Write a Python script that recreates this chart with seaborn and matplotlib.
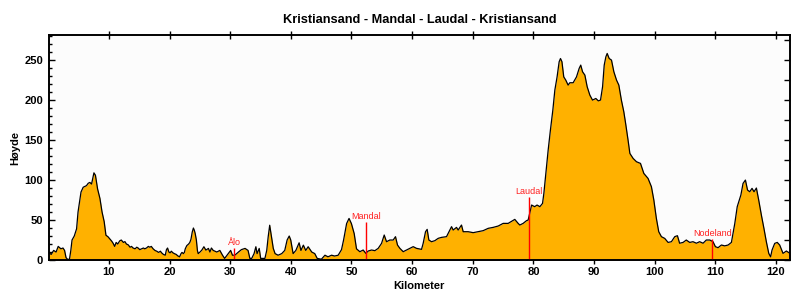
import matplotlib
matplotlib.use("Agg")
import matplotlib.pyplot as plt
import seaborn as sns
import pandas as pd
import numpy as np

sns.set_theme(style="ticks")
plt.rcParams["font.family"] = ["Liberation Sans", "DejaVu Sans"]
plt.rcParams["text.color"] = "black"
plt.rcParams["axes.labelcolor"] = "black"
plt.rcParams["xtick.color"] = "black"
plt.rcParams["ytick.color"] = "black"

# ---- data ----
km = [0.1, 0.5, 0.9, 1.3, 1.65, 2.1, 2.44, 2.7, 2.94, 3.3, 3.53, 3.73, 3.93, 4.3, 4.68, 4.92,
      5.41, 5.77, 6.31, 6.6, 6.87, 7.15, 7.54, 7.79, 8.14, 8.53, 8.88, 9.23, 9.52, 9.87,
      10.2, 10.47, 10.7, 10.96, 11.2, 11.46, 11.8, 12.05, 12.4, 12.65, 12.9, 13.19, 13.5,
      13.74, 14.0, 14.33, 14.6, 14.83, 15.1, 15.42, 15.7, 15.92, 16.2, 16.51, 16.75, 17.0,
      17.3, 17.6, 17.9, 18.2, 18.5, 18.7, 19.0, 19.3, 19.5, 19.68, 19.9, 20.1, 20.3, 20.57,
      20.8, 21.1, 21.4, 21.66, 21.9, 22.06, 22.3, 22.45, 22.6, 22.85, 23.15, 23.35, 23.54,
      23.75, 23.94, 24.1, 24.24, 24.43, 24.6, 24.73,
      25.03, 25.33, 25.67, 26.0, 26.42, 26.66, 26.91, 27.21, 27.8, 28.3, 28.74, 29.09,
      29.68, 30.08, 30.38, 30.77, 31.37, 31.86, 32.46, 32.95, 33.25, 33.55, 33.94, 34.24,
      34.44, 34.79, 35.03, 35.73, 36.03, 36.27, 36.52, 36.82, 37.11, 37.41, 37.9, 38.5,
      39.0, 39.39, 39.74, 39.99, 40.38, 40.83, 41.37, 41.67, 42.07, 42.46, 42.86, 43.45,
      43.95, 44.35, 45.04, 45.63, 46.13, 46.72, 47.22, 47.81, 48.36, 48.7, 49.2, 49.6,
      49.99, 50.45, 50.83, 51.38, 51.93, 52.37, 52.76, 53.31, 53.86, 54.41, 54.96, 55.4,
      55.78, 56.33, 56.88, 57.26, 57.59, 57.98, 58.53, 59.08, 59.63, 60.18, 60.72, 61.55,
      61.82, 62.21, 62.48, 62.76, 63.2, 63.75, 64.3, 64.85, 65.67, 66.22, 66.5, 66.77,
      67.32, 67.59, 68.14, 68.42, 69.24, 70.07, 70.89, 71.71, 72.54, 73.36, 74.19, 75.01,
      75.83, 76.93, 77.48, 77.76, 78.3, 78.86, 79.13, 79.4, 79.7, 80.2, 80.6, 81.06, 81.5,
      81.72, 82.05, 82.43, 82.8, 83.2, 83.53, 83.9, 84.24, 84.46, 84.7, 85.0, 85.33, 85.72,
      86.0, 86.55, 87.1, 87.54, 87.8, 88.1, 88.48, 88.86, 89.3, 89.74, 90.29, 90.7, 91.06,
      91.4, 91.67, 91.94, 92.16, 92.49, 92.87, 93.26, 93.7, 94.08, 94.5, 94.9, 95.2, 95.6,
      95.9, 96.44, 96.99, 97.65, 98.2, 98.9, 99.45, 99.85, 100.27, 100.66, 101.1, 101.65,
      102.2, 102.75, 103.3, 103.74, 104.1, 104.67, 105.2, 105.77, 106.3, 106.87, 107.4,
      107.97, 108.5, 109.07, 109.6, 110.0, 110.44, 110.99, 111.54, 112.1, 112.64, 113.2,
      113.6, 114.2, 114.56, 114.95, 115.3, 115.66, 116.04, 116.37, 116.76, 117.14, 117.58,
      118.0, 118.4, 118.8, 119.1, 119.34, 119.78, 120.2, 120.6, 121.15, 121.7, 122.3]
elev = [9.5, 7, 12, 10, 17, 14, 15, 12, 3, 0, 2, 12, 25, 30, 39, 60,
        85, 91, 93, 96, 97, 95, 109, 106, 89, 77, 60, 48, 31, 29,
        26, 23.6, 21, 17, 22, 20, 24, 25, 22, 23, 20, 19, 16,
        17, 15, 14, 16, 15, 13, 14, 15, 14, 15, 17, 16, 17,
        14, 12, 11, 9.5, 11, 9, 7, 6, 13, 15, 10, 9, 11, 9,
        8, 7, 5, 4, 8, 9.5, 8, 9.5, 14, 18, 20, 22, 26,
        35, 40, 37, 33, 25, 12, 8,
        10, 12.4, 16.6, 12.4, 14.5, 10, 15, 12, 10, 12, 6, 2,
        8, 12, 6, 6, 10, 13, 14.5, 12, 2, 2, 8, 16.6,
        8, 14.5, 2, 2, 12, 29, 43.5, 29, 14.5, 8, 6, 8,
        12, 25, 30, 25, 8, 12, 21.5, 12, 18.6, 12, 16.6, 10,
        8, 2, 1, 6, 4, 6, 5, 6, 13, 25, 45.6, 52,
        45.6, 33, 14, 10.4, 12.5, 8.3, 11.25, 12.5, 11.7, 14.6, 20.8, 31.25,
        22.9, 25, 25, 29.2, 18.75, 14.6, 10.4, 12.5, 14.6, 16.7, 14.6, 13.3,
        20.8, 35.4, 38.3, 25, 22.9, 24.2, 27.1, 28.3, 29.2, 37.5, 41.7, 37.5,
        40.8, 37.5, 43.75, 35.4, 35.4, 34.2, 35.4, 36.7, 39.6, 40.8, 42.5, 45.8,
        45.8, 50.8, 45.8, 43.75, 45.8, 49.2, 50, 59, 68.75, 66.7, 68.75, 66.7, 70.8,
        83.3, 108.3, 137.5, 162.5, 187.5, 212.5, 229, 247.9, 252, 248, 229, 225, 218.75,
        221.7, 221.7, 229, 239.6, 243.75, 235.4, 231.25, 216.7, 206.25, 200, 202, 199, 200,
        216.7, 243.75, 254, 258.3, 252, 250, 235.4, 225, 218.75, 200, 185.4, 170.8, 150,
        133.3, 127, 122.9, 120.8, 108.3, 102, 91.7, 75, 52, 35.4, 29.2, 27,
        22, 22.9, 29.2, 30.4, 21, 22, 25, 22, 22.9, 21, 22.9,
        21, 25, 25, 23, 16.7, 15.4, 18.75, 17.7, 18.75, 22, 45.8,
        66.7, 81.25, 95.8, 100, 87.5, 85.4, 89.6, 85.4, 90, 75, 56.25,
        39.6, 22.9, 8.3, 4, 12.5, 20.8, 22, 18.75, 8.3, 11.25, 8.3]

place_names = ["Ålo", "Mandal", "Laudal", "Nodeland"]
place_km = [30.67, 52.37, 79.3, 109.5]
place_top = [15, 48, 79, 26]

x_ticks = [10, 20, 30, 40, 50, 60, 70, 80, 90, 100, 110, 120]
y_ticks = [0, 50, 100, 150, 200, 250]
y_minor = [10, 20, 30, 40, 60, 70, 80, 90, 110, 120, 130, 140, 160, 170, 180, 190,
           210, 220, 230, 240, 260, 270, 280]
y_right = [0, 25, 50, 75, 100, 125, 150, 175, 200, 225, 250, 275]

title = "Kristiansand - Mandal - Laudal - Kristiansand"
xlabel = "Kilometer"
ylabel = "Høyde"

df = pd.DataFrame({"km": km, "elev": elev})

fig = plt.figure(figsize=(8, 3), dpi=100)
fig.patch.set_facecolor("white")
ax = fig.add_axes([0.061, 0.1333, 0.9265, 0.749])
ax.set_facecolor("#fcfcfc")

ax.fill_between(df["km"], df["elev"], 0, color="#FFB100", lw=0, zorder=1)
sns.lineplot(data=df, x="km", y="elev", ax=ax, color="black", lw=0.9,
             sort=False, zorder=2)

for name, k, t in zip(place_names, place_km, place_top):
    ax.vlines(k, 0, t, color="red", lw=1.0, zorder=3)
    ax.text(k, t + 1, name, color="#ff2020", fontsize=6.5, ha="center",
            va="bottom", zorder=4)

ax.set_xlim(0.1, 122.3)
ax.set_ylim(0, 281)
ax.set_xticks(x_ticks)
ax.set_yticks(y_ticks)
ax.set_yticks(y_minor, minor=True)

for s in ax.spines.values():
    s.set_linewidth(1.2)
    s.set_color("black")

ax.tick_params(axis="x", which="major", direction="inout", length=6, width=1,
               top=True, bottom=True, labelsize=8, pad=2, colors="black")
ax.tick_params(axis="y", which="major", direction="in", length=4, width=1,
               labelsize=8, pad=4, colors="black")
ax.tick_params(axis="y", which="minor", direction="in", length=2.5, width=1,
               left=True, colors="black")
for lab in ax.get_xticklabels() + ax.get_yticklabels():
    lab.set_fontweight("bold")
    lab.set_color("black")

ax2 = ax.twinx()
ax2.set_ylim(0, 281)
ax2.set_yticks(y_right)
ax2.tick_params(axis="y", direction="in", length=4, width=1, labelright=False,
                right=True, colors="black")
for s in ax2.spines.values():
    s.set_linewidth(1.2)
    s.set_color("black")

ax.set_xlabel(xlabel, fontsize=8, fontweight="bold", labelpad=3, color="black")
ax.set_ylabel(ylabel, fontsize=8, fontweight="bold", labelpad=3, color="black")
ax.set_title(title, fontsize=9.2, fontweight="bold", pad=9, color="black")

fig.savefig("out.png", dpi=100, facecolor="white")
